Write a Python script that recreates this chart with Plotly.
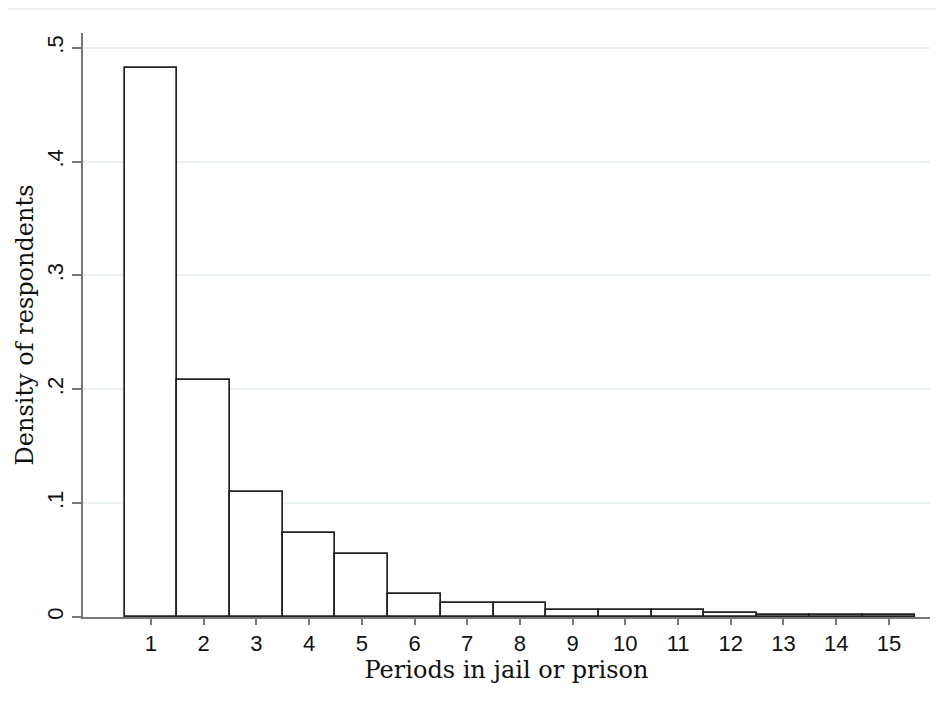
import plotly.graph_objects as go

periods = list(range(1, 16))
density = [0.482, 0.208, 0.110, 0.074, 0.055, 0.020, 0.012, 0.012,
           0.006, 0.006, 0.006, 0.0035, 0.0015, 0.0015, 0.0015]
y_tick_vals = [0, 0.1, 0.2, 0.3, 0.4, 0.5]
y_tick_text = ["0", ".1", ".2", ".3", ".4", ".5"]
x_title = "Periods in jail or prison"
y_title = "Density of respondents"

fig = go.Figure()
fig.add_trace(go.Bar(
    x=periods, y=density, width=1,
    marker=dict(color="white", line=dict(color="#222222", width=1.7)),
    showlegend=False,
))

fig.update_layout(
    width=929, height=703,
    margin=dict(l=75, r=7, t=25, b=94),
    paper_bgcolor="white", plot_bgcolor="white",
    bargap=0,
    font=dict(family="Liberation Sans, Arial, sans-serif", color="#111"),
)
fig.update_xaxes(
    range=[-0.29, 15.78], automargin=False,
    tickvals=periods, ticktext=[str(p) for p in periods],
    ticks="outside", ticklen=6, tickwidth=1.5, tickcolor="#777",
    showline=True, linecolor="#777", linewidth=1.5,
    showgrid=False, zeroline=False,
    tickfont=dict(size=22, family="Liberation Sans, Arial, sans-serif", color="#111"),
    title=dict(text=x_title, font=dict(size=24, family="DejaVu Serif, serif", color="#111"), standoff=6),
)
fig.update_yaxes(
    range=[0, 0.513], automargin=False,
    tickvals=y_tick_vals, ticktext=y_tick_text, tickangle=-90,
    ticks="outside", ticklen=9, tickwidth=1.5, tickcolor="#777",
    showline=True, linecolor="#777", linewidth=1.5,
    showgrid=True, gridcolor="#eaf2f2", gridwidth=1.5, zeroline=False,
    tickfont=dict(size=22, family="Liberation Sans, Arial, sans-serif", color="#111"),
    title=dict(text=y_title, font=dict(size=24, family="DejaVu Serif, serif", color="#111"), standoff=3),
)
fig.add_shape(type="line", xref="paper", yref="paper", x0=-0.1, x1=1.03, y0=1.0415, y1=1.0415,
              line=dict(color="#f0f0f0", width=1.5))
fig.write_html("out.html")
